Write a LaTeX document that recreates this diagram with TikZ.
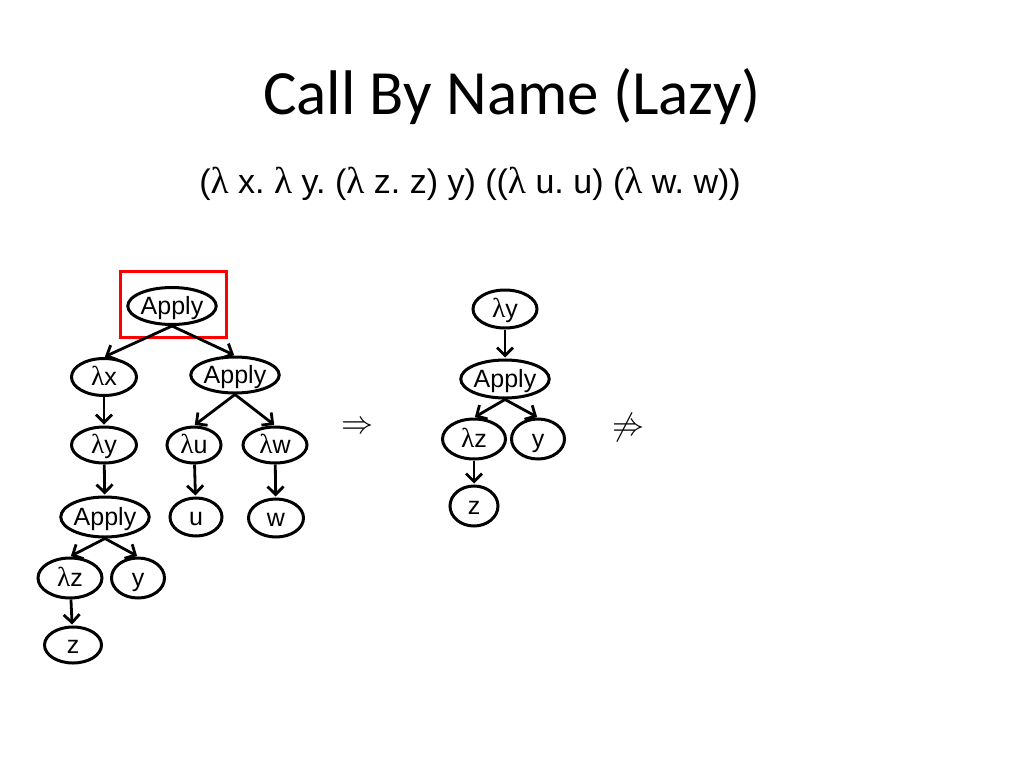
\documentclass[tikz,border=0pt]{standalone}
\usepackage{fontspec}
\setmainfont{Liberation Sans}
\newfontfamily\titlefont{Carlito}
\newfontfamily\lamfont{Liberation Serif}
\usetikzlibrary{shapes.geometric,arrows.meta}
\newcommand\lam{{\lamfont\scalebox{1.1}{λ}}}
\newcommand\nodefont{\fontsize{25}{30}\selectfont}
\begin{document}
\frenchspacing
\begin{tikzpicture}[x=1pt,y=-1pt,
  nd/.style={ellipse, draw, line width=3pt, inner sep=0pt, font=\nodefont, text height=20pt, text depth=4pt},
  arr/.style={line width=2.8pt, shorten >=1pt, -{Straight Barb[length=8pt,width=16pt,line width=2.8pt]}}]
\useasboundingbox[fill=white] (0,0) rectangle (1024,768);
% title
\node[font=\titlefont\fontsize{63}{72}\selectfont] (title) at (512,97) {Call By Name (Lazy)};
\node[font=\fontsize{34}{40}\selectfont] (expr) at (470,184) {(\lam{} x. \lam{} y. (\lam{} z. z) y) ((\lam{} u. u) (\lam{} w. w))};
% left tree
\node[nd, minimum width=85pt, minimum height=37pt] (a1) at (172,306) {Apply};
\node[draw=red, line width=3pt, minimum width=106pt, minimum height=66pt, inner sep=0pt] (box) at (173.5,304) {};
\node[nd, minimum width=65pt, minimum height=37pt] (lx) at (104,377) {\lam x};
\node[nd, minimum width=85pt, minimum height=36pt] (a2) at (235,375) {Apply};
\node[nd, minimum width=65pt, minimum height=36pt] (ly) at (104,445) {\lam y};
\node[nd, minimum width=54pt, minimum height=36pt] (lu) at (194,445) {\lam u};
\node[nd, minimum width=64pt, minimum height=36pt] (lw) at (275,445) {\lam w};
\node[nd, minimum width=86pt, minimum height=40pt] (a3) at (105,517) {Apply};
\node[nd, minimum width=52pt, minimum height=38pt] (u) at (196,517) {u};
\node[nd, minimum width=55pt, minimum height=38pt] (w) at (276,518) {w};
\node[nd, minimum width=64pt, minimum height=40pt] (lz) at (70,578) {\lam z};
\node[nd, minimum width=53pt, minimum height=40pt] (y) at (138,578) {y};
\node[nd, minimum width=57pt, minimum height=36pt] (z) at (73,645) {z};
\draw[arr] (a1.south) -- (lx.north);
\draw[arr] (a1.south) -- (a2.north);
\draw[arr] (lx) -- (ly);
\draw[arr] (ly) -- (a3);
\draw[arr] (a2.south) -- (lu.north);
\draw[arr] (a2.south) -- (lw.north);
\draw[arr] (lu) -- (u);
\draw[arr] (lw) -- (w);
\draw[arr] (a3.south) -- (lz.north);
\draw[arr] (a3.south) -- (y.north);
\draw[arr] (lz) -- (z);
% arrows between
\node[inner sep=0pt] (imp) at (357,428) {\scalebox{3.2}{$\Rightarrow$}};
\node[inner sep=0pt] (nimp) at (628,427) {\scalebox{3.2}{$\not\Rightarrow$}};
% right tree
\node[nd, minimum width=64pt, minimum height=38pt] (rly) at (505,309) {\lam y};
\node[nd, minimum width=85pt, minimum height=38pt] (ra) at (505,379) {Apply};
\node[nd, minimum width=63pt, minimum height=40pt] (rlz) at (474,439) {\lam z};
\node[nd, minimum width=53pt, minimum height=40pt] (ry) at (538,439) {y};
\node[nd, minimum width=48pt, minimum height=40pt] (rz) at (474,506) {z};
\draw[arr] (rly) -- (ra);
\draw[arr] (ra.south) -- (rlz.north);
\draw[arr] (ra.south) -- (ry.north);
\draw[arr] (rlz) -- (rz);
\end{tikzpicture}
\end{document}
